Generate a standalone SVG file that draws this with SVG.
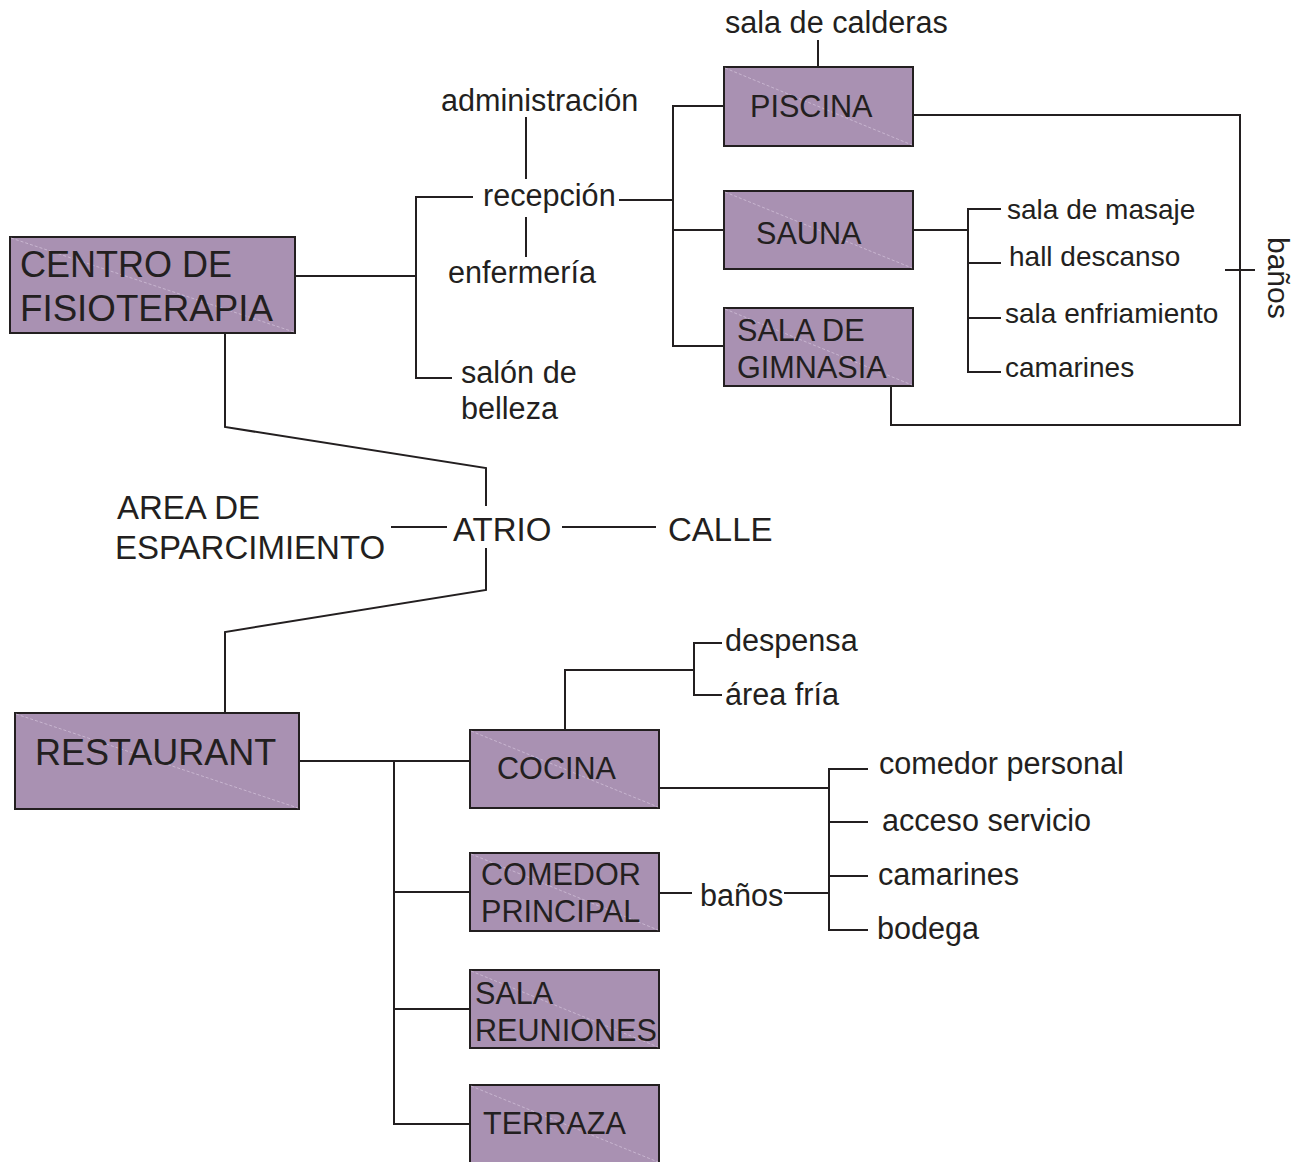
<svg xmlns="http://www.w3.org/2000/svg" width="1293" height="1162" viewBox="0 0 1293 1162">
<style>
.box{fill:#A991B2;stroke:#231F20;stroke-width:2}
.diag{stroke:#DCCDE2;stroke-width:0.6;stroke-dasharray:3 2;fill:none}
.ln{stroke:#231F20;stroke-width:2;fill:none}
text{font-family:"Liberation Sans",Arial,sans-serif;fill:#231F20}
.big{font-size:36px}
.bx{font-size:30.6px}
.lb{font-size:30.6px}
.sm{font-size:28px}
.at{font-size:33px}
</style>
<rect width="1293" height="1162" fill="#ffffff"/>
<g id="connectors">
<polyline class="ln" points="295,276 416,276"/>
<polyline class="ln" points="473,197 416,197 416,378 452,378"/>
<line class="ln" x1="526" y1="117" x2="526" y2="179"/>
<line class="ln" x1="526" y1="217" x2="526" y2="257"/>
<line class="ln" x1="619" y1="200" x2="673" y2="200"/>
<polyline class="ln" points="724,106 673,106 673,346 724,346"/>
<line class="ln" x1="673" y1="230" x2="724" y2="230"/>
<line class="ln" x1="818" y1="40" x2="818" y2="67"/>
<polyline class="ln" points="913,115 1240,115 1240,425 891,425 891,386"/>
<line class="ln" x1="1225" y1="270" x2="1255" y2="270"/>
<line class="ln" x1="913" y1="230" x2="968" y2="230"/>
<polyline class="ln" points="1001,209 968,209 968,372 1001,372"/>
<line class="ln" x1="968" y1="263" x2="1001" y2="263"/>
<line class="ln" x1="968" y1="318" x2="1001" y2="318"/>
<polyline class="ln" points="225,333 225,427 486,468 486,506"/>
<polyline class="ln" points="486,548 486,590 225,632 225,713"/>
<line class="ln" x1="391" y1="527" x2="447" y2="527"/>
<line class="ln" x1="562" y1="527" x2="656" y2="527"/>
<line class="ln" x1="299" y1="761" x2="470" y2="761"/>
<polyline class="ln" points="394,761 394,1124 470,1124"/>
<line class="ln" x1="394" y1="892" x2="470" y2="892"/>
<line class="ln" x1="394" y1="1009" x2="470" y2="1009"/>
<polyline class="ln" points="565,730 565,670 694,670"/>
<polyline class="ln" points="722,643 694,643 694,695 722,695"/>
<line class="ln" x1="659" y1="788" x2="829" y2="788"/>
<polyline class="ln" points="868,769 829,769 829,930 868,930"/>
<line class="ln" x1="829" y1="822" x2="868" y2="822"/>
<line class="ln" x1="829" y1="876" x2="868" y2="876"/>
<line class="ln" x1="659" y1="893" x2="692" y2="893"/>
<line class="ln" x1="784" y1="893" x2="829" y2="893"/>
</g>
<g id="centro">
<rect class="box" x="10" y="237" width="285" height="96"/>
<line class="diag" x1="11" y1="238" x2="294" y2="332"/>
<text class="big" x="20" y="277">CENTRO DE</text>
<text class="big" x="20" y="321" textLength="253" lengthAdjust="spacingAndGlyphs">FISIOTERAPIA</text>
</g>
<g id="piscina">
<rect class="box" x="724" y="67" width="189" height="79"/>
<line class="diag" x1="725" y1="68" x2="912" y2="145"/>
<text class="bx" x="750" y="117">PISCINA</text>
</g>
<g id="sauna">
<rect class="box" x="724" y="191" width="189" height="78"/>
<line class="diag" x1="725" y1="192" x2="912" y2="268"/>
<text class="bx" x="756" y="244">SAUNA</text>
</g>
<g id="gimnasia">
<rect class="box" x="724" y="308" width="189" height="78"/>
<line class="diag" x1="725" y1="309" x2="912" y2="385"/>
<text class="bx" x="737" y="341">SALA DE</text>
<text class="bx" x="737" y="378">GIMNASIA</text>
</g>
<g id="restaurant">
<rect class="box" x="15" y="713" width="284" height="96"/>
<line class="diag" x1="16" y1="714" x2="298" y2="808"/>
<text class="big" x="35" y="765">RESTAURANT</text>
</g>
<g id="cocina">
<rect class="box" x="470" y="730" width="189" height="78"/>
<line class="diag" x1="471" y1="731" x2="658" y2="807"/>
<text class="bx" x="497" y="779">COCINA</text>
</g>
<g id="comedor">
<rect class="box" x="470" y="853" width="189" height="78"/>
<line class="diag" x1="471" y1="854" x2="658" y2="930"/>
<text class="bx" x="481" y="885">COMEDOR</text>
<text class="bx" x="481" y="922">PRINCIPAL</text>
</g>
<g id="reuniones">
<rect class="box" x="470" y="970" width="189" height="78"/>
<line class="diag" x1="471" y1="971" x2="658" y2="1047"/>
<text class="bx" x="475" y="1004">SALA</text>
<text class="bx" x="475" y="1041">REUNIONES</text>
</g>
<g id="terraza">
<rect class="box" x="470" y="1085" width="189" height="90"/>
<line class="diag" x1="471" y1="1086" x2="658" y2="1162"/>
<text class="bx" x="483" y="1134">TERRAZA</text>
</g>
<g id="labels">
<text class="lb" x="725" y="33">sala de calderas</text>
<text class="lb" x="441" y="111">administración</text>
<text class="lb" x="483" y="206">recepción</text>
<text class="lb" x="448" y="283">enfermería</text>
<text class="lb" x="461" y="383">salón de</text>
<text class="lb" x="461" y="419">belleza</text>
<text class="sm" x="1007" y="219">sala de masaje</text>
<text class="sm" x="1009" y="266">hall descanso</text>
<text class="sm" x="1005" y="323">sala enfriamiento</text>
<text class="sm" x="1005" y="377">camarines</text>
<text class="sm" x="1268" y="237" transform="rotate(90 1268 237)" style="font-size:30px">baños</text>
<text class="at" x="117" y="519">AREA DE</text>
<text class="at" x="115" y="559">ESPARCIMIENTO</text>
<text class="at" x="453" y="541">ATRIO</text>
<text class="at" x="668" y="541">CALLE</text>
<text class="lb" x="725" y="651">despensa</text>
<text class="lb" x="725" y="705">área fría</text>
<text class="lb" x="879" y="774">comedor personal</text>
<text class="lb" x="882" y="831">acceso servicio</text>
<text class="lb" x="878" y="885">camarines</text>
<text class="lb" x="877" y="939">bodega</text>
<text class="lb" x="700" y="906">baños</text>
</g>
</svg>
